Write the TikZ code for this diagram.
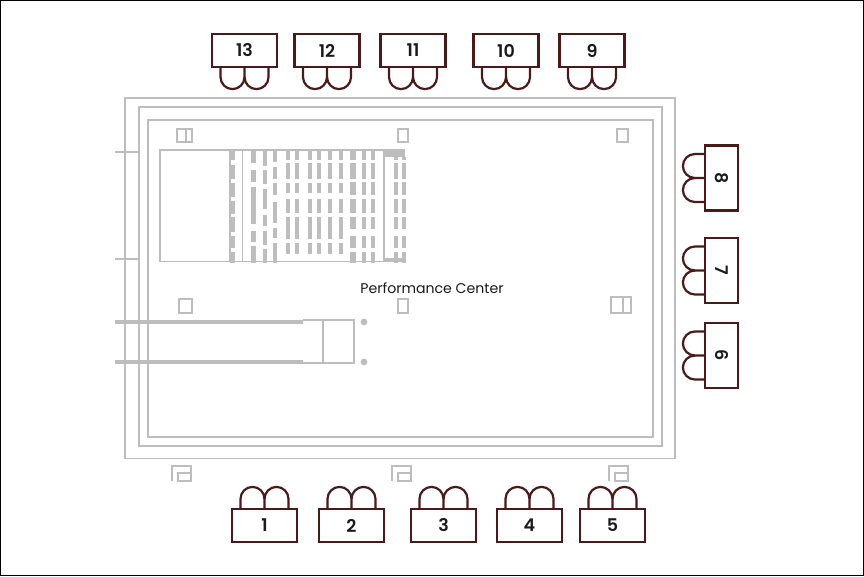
\documentclass[tikz,border=0pt]{standalone}
\usepackage{fontspec}
\setmainfont{Poppins}
\newfontfamily\numfont{Poppins SemiBold}
\definecolor{wall}{HTML}{BDBDBD}
\definecolor{maroon}{HTML}{4A1A1A}
\definecolor{ink}{HTML}{1A1A1A}
\tikzset{
  wallline/.style={draw=wall,line width=1.6pt},
  thinwall/.style={draw=wall,line width=1.4pt},
  rampline/.style={draw=wall,line width=4pt},
  seatfill/.style={fill=wall,draw=wall,line width=0.2pt},
  desk/.style={draw=maroon,line width=2.2pt,fill=white,minimum width=65pt,minimum height=33pt,inner sep=0pt,text=ink,font=\numfont\fontsize{17.5}{17.5}\selectfont},
  deskv/.style={draw=maroon,line width=2.2pt,fill=white,minimum width=33pt,minimum height=65pt,inner sep=0pt,text=ink,font=\numfont\fontsize{17.5}{17.5}\selectfont},
  chair/.style={draw=maroon,line width=2.2pt},
  roomlabel/.style={text=ink,font=\fontsize{14.1}{16}\selectfont,inner sep=0pt}
}
% chairs below, above and to the left of a named desk (y axis points down)
\newcommand\chairsdown[1]{\begin{scope}[shift={(#1.south)}]
  \draw[chair] (-24,0) -- (-24,9) arc[start angle=180,end angle=0,radius=12] -- (0,0);
  \draw[chair] (0,9) arc[start angle=180,end angle=0,radius=12] -- (24,0);
\end{scope}}
\newcommand\chairsup[1]{\begin{scope}[shift={(#1.north)}]
  \draw[chair] (-24,0) -- (-24,-9) arc[start angle=180,end angle=360,radius=12] -- (0,0);
  \draw[chair] (0,-9) arc[start angle=180,end angle=360,radius=12] -- (24,0);
\end{scope}}
\newcommand\chairsleft[1]{\begin{scope}[shift={(#1.west)}]
  \draw[chair] (0,-24) -- (-9,-24) arc[start angle=270,end angle=90,radius=12] -- (0,0);
  \draw[chair] (-9,0) arc[start angle=270,end angle=90,radius=12] -- (0,24);
\end{scope}}
% seat column in zoom units
\newcommand\seatcol[3]{\foreach \a/\b in {#3} \path[seatfill] (#1,\a) rectangle (#2,\b);}
\begin{document}
\begin{tikzpicture}[x=1pt,y=-1pt]
\useasboundingbox (0,0) rectangle (864,576);
\fill[white] (0,0) rectangle (864,576);
\draw[black,line width=1.2pt] (0.6,0.6) rectangle (863.4,575.4);
% walls
\draw[wallline] (125,98) rectangle (675,458.5);
\draw[wallline] (139,107) rectangle (662,446);
\draw[wallline] (148,120) rectangle (653,437);
% left ticks
\draw[thinwall] (115,152) -- (139,152);
\draw[thinwall] (115,259) -- (139,259);
% columns
\draw[thinwall] (177,129) rectangle (192,142) (186,129) -- (186,142);
\draw[thinwall] (398,129) rectangle (408,142);
\draw[thinwall] (617,129) rectangle (628,142);
\draw[thinwall] (179,299) rectangle (192,313);
\draw[thinwall] (398,299) rectangle (408,313);
\draw[thinwall] (611,297) rectangle (631,313) (623,297) -- (623,313);
% seating block
\begin{scope}[shift={(110,90)},x=0.33333pt,y=-0.33333pt]
\draw[thinwall] (150,180) rectangle (360,515);
\draw[thinwall] (360,180) -- (885,180);
\draw[thinwall] (360,515) -- (885,515);
\draw[thinwall] (398,180) -- (398,515);
\draw[thinwall] (822,180) -- (822,515);
\seatcol{360}{372}{180/207,226/265,280/318,334/368,382/424,438/470,486/515}
\seatcol{423}{436}{180/215,240/272,290/398,422/454,468/515}
\seatcol{460}{469}{180/225,240/280,298/355,375/405,422/462,476/515}
\seatcol{488}{498}{180/213,230/265,278/312,335/395,413/441,458/515}
\foreach \c in {528,556,594,621,655,687}{
  \seatcol{\c}{\c+9}{180/207,220/265,280/307,326/367,382/445,458/490}
}
\seatcol{719}{734}{180/207,220/265,276/313,326/367,382/415,438/470,486/515}
\foreach \c in {756,783}{
  \seatcol{\c}{\c+9}{180/207,220/265,276/313,326/367,382/415,438/472,486/515}
}
\foreach \c in {851,877}{
  \seatcol{\c}{\c+9}{200/207,220/265,276/313,326/367,382/415,438/472,486/515}
}
\fill[wall] (822,180) rectangle (886,200);
\fill[wall] (822,505) rectangle (886,515);
\end{scope}
% ramp
\draw[thinwall] (303,320) -- (354,320) -- (354,363) -- (303,363);
\draw[thinwall] (323,320) -- (323,363);
\draw[rampline] (115,322) -- (303,322);
\draw[rampline] (115,362) -- (303,362);
\fill[wall] (364,322) circle[radius=3.4];
\fill[wall] (364,362) circle[radius=3.4];
% outside corner marks
\foreach \dx in {0,220,437}{
  \draw[thinwall,shift={(\dx,0)}] (172,481) -- (172,466) -- (191,466) -- (191,481) -- (178,481) -- (178,473) -- (191,473);
}
\node[roomlabel] (room) at (432,288) {Performance Center};
% desks top
\foreach \n/\cx in {13/244.5,12/327,11/413,10/506,9/592}{
  \node[desk] (d\n) at (\cx,50.5) {\raisebox{-1pt}{\n}};
  \chairsdown{d\n}
}
% desks bottom
\foreach \n/\cx in {1/264.5,2/351.5,3/443.5,4/529.5,5/612.5}{
  \node[desk] (d\n) at (\cx,525.5) {\raisebox{-1pt}{\n}};
  \chairsup{d\n}
}
% desks right
\foreach \n/\cy in {8/178,7/270.5,6/355.5}{
  \node[deskv] (d\n) at (721.5,\cy) {\rotatebox{-90}{\n}};
  \chairsleft{d\n}
}
\end{tikzpicture}
\end{document}
